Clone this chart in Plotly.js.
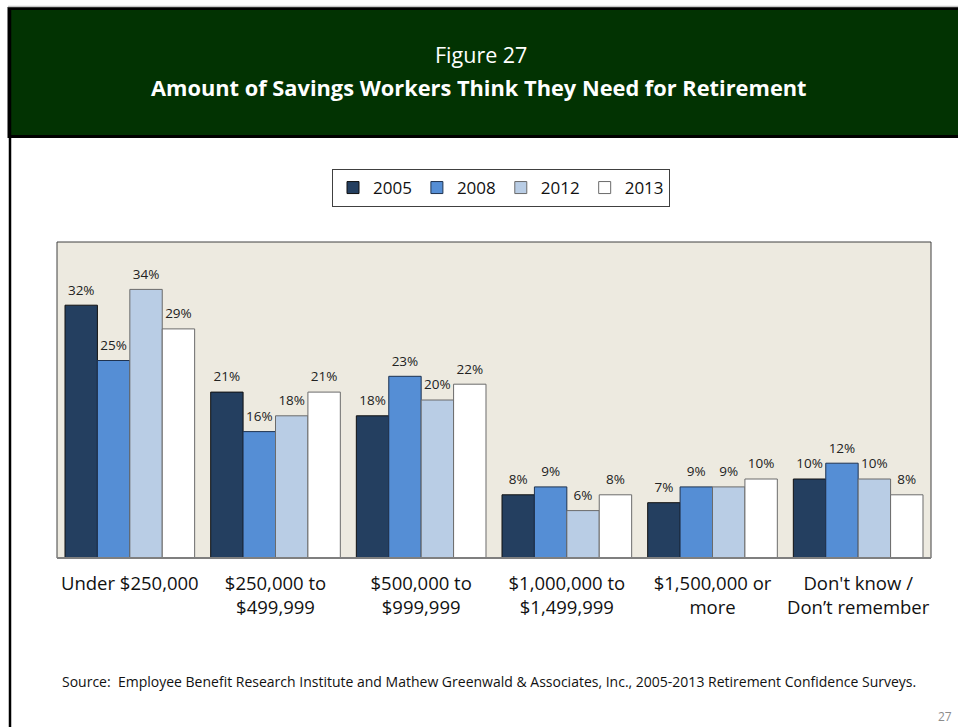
<!DOCTYPE html>
<html>
<head>
<meta charset="utf-8">
<script src="https://cdn.plot.ly/plotly-3.0.1.min.js"></script>
<style>
  html, body { margin: 0; padding: 0; background: #ffffff; }
  #chart { width: 958px; height: 727px; }
</style>
</head>
<body>
<div id="chart"></div>
<script>
// ---- data ----
const categories = [
  "Under $250,000",
  "$250,000 to<br>$499,999",
  "$500,000 to<br>$999,999",
  "$1,000,000 to<br>$1,499,999",
  "$1,500,000 or<br>more",
  "Don't know /<br>Don\u2019t remember"
];
const seriesNames = ["2005", "2008", "2012", "2013"];
const values2005 = [32, 21, 18, 8, 7, 10];
const values2008 = [25, 16, 23, 9, 9, 12];
const values2012 = [34, 18, 20, 6, 9, 10];
const values2013 = [29, 21, 22, 8, 10, 8];
const titleLine1 = "Figure 27";
const titleLine2 = "Amount of Savings Workers Think They Need for Retirement";
const sourceText = "Source:  Employee Benefit Research Institute and Mathew Greenwald & Associates, Inc., 2005-2013 Retirement Confidence Surveys.";
const pageNumber = "27";

// ---- styles ----
const W = 958, H = 727;
const fills = ["#243F60", "#558ED5", "#B9CDE5", "#FFFFFF"];
const outlines = ["#111111", "#1F3350", "#6b6b6b", "#6b6b6b"];
const FONT = "Open Sans, Noto Sans, sans-serif";

const allValues = [values2005, values2008, values2012, values2013];
const barTraces = allValues.map((vals, i) => ({
  type: "bar",
  name: seriesNames[i],
  x: categories,
  y: vals,
  offsetgroup: String(i),
  marker: { color: fills[i], line: { color: outlines[i], width: 1 } },
  hoverinfo: "skip"
}));
const labelTraces = allValues.map((vals, i) => ({
  type: "scatter",
  mode: "markers+text",
  name: seriesNames[i] + " labels",
  showlegend: false,
  x: categories,
  y: vals,
  offsetgroup: String(i),
  text: vals.map(v => v + "%"),
  textposition: "top center",
  textfont: { family: FONT, size: 13.5, color: "#222222" },
  marker: { size: 10, opacity: 0 },
  cliponaxis: false,
  hoverinfo: "skip"
}));

// pixel helpers for paper coords
const px = x => x / W;
const py = y => 1 - y / H;

const plotL = 57, plotR = 931, plotT = 242, plotB = 558;

const layout = {
  width: W, height: H,
  margin: { l: 0, r: 0, t: 0, b: 0 },
  paper_bgcolor: "#ffffff",
  plot_bgcolor: "#EDEAE0",
  barmode: "group",
  bargap: 0.11,
  bargroupgap: 0,
  scattermode: "group",
  scattergap: 0.11,
  showlegend: true,
  legend: {
    orientation: "h",
    x: px(501), xanchor: "center",
    y: py(169), yanchor: "top",
    bordercolor: "#404040", borderwidth: 1,
    bgcolor: "#ffffff",
    font: { family: FONT, size: 17, color: "#111111" },
    itemwidth: 30,
    tracegroupgap: 0,
    traceorder: "normal"
  },
  xaxis: {
    domain: [px(plotL), px(plotR)],
    type: "category",
    showgrid: false, zeroline: false,
    showline: false,
    ticks: "",
    tickfont: { family: FONT, size: 18.5, color: "#111111" },
    ticklabelstandoff: 12,
    fixedrange: true
  },
  yaxis: {
    domain: [py(plotB), py(plotT)],
    range: [0, 40],
    showgrid: false, zeroline: false, showline: false,
    showticklabels: false, ticks: "",
    fixedrange: true
  },
  shapes: [
    { type: "line", xref: "paper", yref: "paper", x0: px(8), x1: 1, y0: py(6.5), y1: py(6.5), line: { color: "#c8c8c8", width: 1.5 } },
    { type: "rect", xref: "paper", yref: "paper", x0: px(9), x1: 1.01, y0: py(136.5), y1: py(8.5), fillcolor: "#023302", line: { color: "#000000", width: 3 }, layer: "below" },
    { type: "line", xref: "paper", yref: "paper", x0: px(10), x1: px(10), y0: py(8), y1: 0, line: { color: "#000000", width: 2.5 } },
    { type: "rect", xref: "paper", yref: "paper", x0: px(plotL), x1: px(plotR), y0: py(plotB), y1: py(plotT), line: { color: "#404040", width: 1 }, layer: "below" },
    { type: "line", xref: "paper", yref: "paper", x0: px(plotL), x1: px(plotR), y0: py(plotB), y1: py(plotB), line: { color: "#7f7f7f", width: 2 } }
  ],
  annotations: [
    { xref: "paper", yref: "paper", x: px(481), y: py(54), yanchor: "middle", showarrow: false,
      text: titleLine1, font: { family: FONT, size: 21.5, color: "#ffffff" } },
    { xref: "paper", yref: "paper", x: px(479), y: py(87), yanchor: "middle", showarrow: false,
      text: "<b>" + titleLine2 + "</b>", font: { family: FONT, size: 21.8, color: "#ffffff" } },
    { xref: "paper", yref: "paper", x: px(60), xanchor: "left", y: py(681), yanchor: "middle", showarrow: false,
      text: sourceText, font: { family: FONT, size: 14, color: "#111111" } },
    { xref: "paper", yref: "paper", x: px(954), xanchor: "right", y: py(716), yanchor: "middle", showarrow: false,
      text: pageNumber, font: { family: FONT, size: 12, color: "#8c8c8c" } }
  ]
};

Plotly.newPlot("chart", barTraces.concat(labelTraces), layout, { staticPlot: true, displayModeBar: false });
</script>
</body>
</html>
